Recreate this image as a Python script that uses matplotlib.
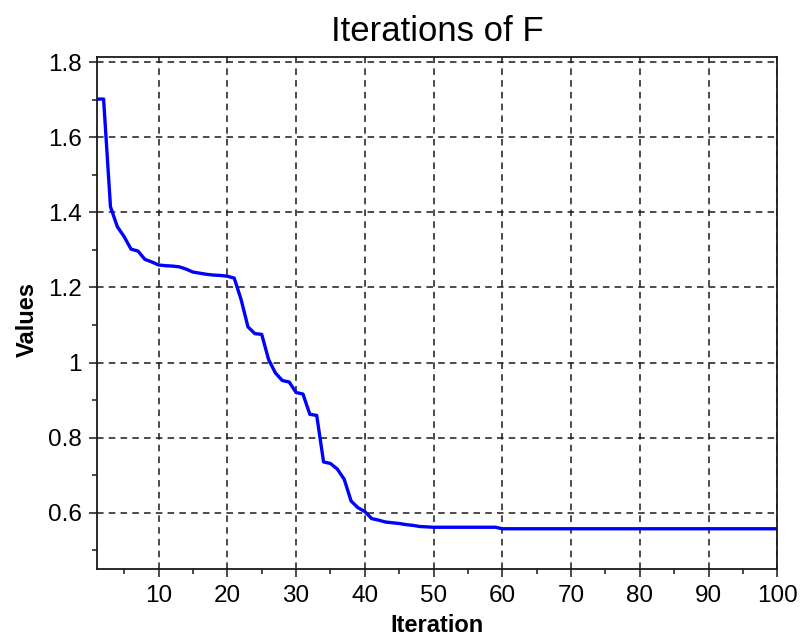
import matplotlib
matplotlib.use("Agg")
import matplotlib.pyplot as plt
from matplotlib.ticker import MultipleLocator

plt.rcParams['font.family'] = ['Liberation Sans', 'DejaVu Sans']

# value of F at each iteration
iterations = list(range(1, 101))
values = [
    1.702, 1.702, 1.415, 1.362, 1.335, 1.302, 1.297, 1.275, 1.268, 1.260,
    1.258, 1.257, 1.255, 1.249, 1.241, 1.238, 1.235, 1.233, 1.232, 1.230,
    1.225, 1.168, 1.095, 1.077, 1.075, 1.008, 0.972, 0.952, 0.948, 0.920,
    0.916, 0.862, 0.859, 0.735, 0.731, 0.716, 0.689, 0.631, 0.613, 0.603,
    0.584, 0.580, 0.575, 0.573, 0.571, 0.568, 0.566, 0.563, 0.562, 0.561,
    0.561, 0.561, 0.561, 0.561, 0.561, 0.561, 0.561, 0.561, 0.561, 0.557,
    0.557, 0.557, 0.557, 0.557, 0.557, 0.557, 0.557, 0.557, 0.557, 0.557,
    0.557, 0.557, 0.557, 0.557, 0.557, 0.557, 0.557, 0.557, 0.557, 0.557,
    0.557, 0.557, 0.557, 0.557, 0.557, 0.557, 0.557, 0.557, 0.557, 0.557,
    0.557, 0.557, 0.557, 0.557, 0.557, 0.557, 0.557, 0.557, 0.557, 0.557,
]
x_ticks = [10, 20, 30, 40, 50, 60, 70, 80, 90, 100]
y_ticks = [0.6, 0.8, 1.0, 1.2, 1.4, 1.6, 1.8]
y_tick_labels = ['0.6', '0.8', '1', '1.2', '1.4', '1.6', '1.8']

fig = plt.figure(figsize=(8.02, 6.39), dpi=100)
ax = fig.add_axes([0.1206, 0.1091, 0.8486, 0.8022])

ax.plot(iterations, values, color='#0000ff', linewidth=2.4, solid_joinstyle='round')

ax.set_xlim(1, 100)
ax.set_ylim(0.449, 1.815)
ax.set_xticks(x_ticks)
ax.set_yticks(y_ticks)
ax.set_yticklabels(y_tick_labels)
ax.xaxis.set_minor_locator(MultipleLocator(5))
ax.yaxis.set_minor_locator(MultipleLocator(0.1))

ax.grid(True, which='major', color='#1a1a1a', linewidth=1.1, linestyle=(0, (4.3, 3.4)))
ax.set_axisbelow(True)

for side in ['left', 'bottom', 'top', 'right']:
    ax.spines[side].set_color('#1a1a1a')
    ax.spines[side].set_linewidth(1.3)

ax.tick_params(which='major', direction='out', length=6, width=1.1, color='#1a1a1a',
               labelsize=17.5, pad=5, top=False, right=False)
ax.tick_params(which='minor', direction='out', length=3.8, width=1.1, color='#1a1a1a',
               top=False, right=False)

ax.set_title('Iterations of F', fontsize=25, pad=11.5)
ax.set_xlabel('Iteration', fontsize=17, fontweight='bold', labelpad=5)
ax.set_ylabel('Values', fontsize=17, fontweight='bold')
ax.yaxis.set_label_coords(-0.085, 0.488)

fig.savefig('out.png', dpi=100)
